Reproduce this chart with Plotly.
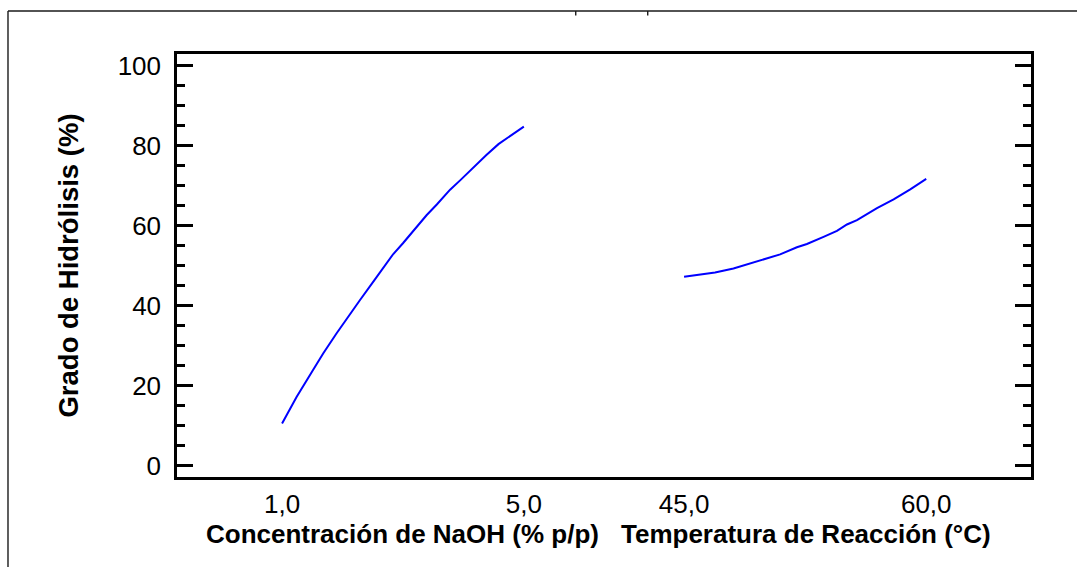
import plotly.graph_objects as go

# Main effects of the two factors on the degree of hydrolysis
naoh_conc = [1.0, 1.24, 1.51, 1.68, 1.90, 2.07, 2.29, 2.51, 2.67, 2.84, 3.0,
             3.25, 3.39, 3.56, 3.78, 3.95, 4.16, 4.38, 4.58, 4.77, 5.0]
naoh_effect = [10.5, 17.1, 23.8, 28.0, 33.0, 36.8, 41.4, 46.0, 49.3, 52.9, 55.6,
               60.0, 62.6, 65.3, 69.0, 71.4, 74.6, 77.7, 80.4, 82.4, 84.8]

temp_c = [45.0, 45.99, 46.92, 48.06, 49.51, 50.95, 51.99, 52.61, 53.64, 54.47,
          55.09, 55.71, 56.95, 57.98, 59.01, 60.0]
temp_effect = [47.2, 47.7, 48.3, 49.3, 51.0, 52.8, 54.6, 55.4, 57.2, 58.7,
               60.3, 61.4, 64.4, 66.6, 69.1, 71.7]

naoh_ticks = [1.0, 5.0]
naoh_ticktext = ["1,0", "5,0"]
temp_ticks = [45.0, 60.0]
temp_ticktext = ["45,0", "60,0"]

y_title = "Grado de Hidrólisis (%)"
x_titles = ["Concentración de NaOH (% p/p)", "Temperatura de Reacción (°C)"]

FONT = "Liberation Sans, Arial, Helvetica, sans-serif"
LINE_BLUE = "#0000ff"

fig = go.Figure()
fig.add_trace(go.Scatter(x=naoh_conc, y=naoh_effect, mode="lines",
                         line=dict(color=LINE_BLUE, width=2),
                         xaxis="x", yaxis="y", showlegend=False))
fig.add_trace(go.Scatter(x=temp_c, y=temp_effect, mode="lines",
                         line=dict(color=LINE_BLUE, width=2),
                         xaxis="x2", yaxis="y2", showlegend=False))

y_range = [-2.9, 102.96]
common_x = dict(showline=True, linecolor="black", linewidth=2.5, mirror=True,
                ticks="", showgrid=False, zeroline=False,
                tickfont=dict(family=FONT, size=26, color="black"),
                ticklabelstandoff=2, anchor="y")
common_y = dict(range=y_range, dtick=20, tick0=0, showline=True, linecolor="black",
                linewidth=2.5, ticks="inside", ticklen=16, tickwidth=2.5,
                tickcolor="black", showgrid=False, zeroline=False,
                minor=dict(dtick=5, tick0=0, ticks="inside", ticklen=8,
                           tickwidth=2.5, tickcolor="black", showgrid=False))

fig.update_layout(
    width=1077, height=567,
    margin=dict(l=177, r=46, t=54, b=90),
    paper_bgcolor="white", plot_bgcolor="white",
    font=dict(family=FONT, color="black"),
    xaxis=dict(domain=[0, 0.5], range=[-0.738, 6.326],
               tickvals=naoh_ticks, ticktext=naoh_ticktext, **common_x),
    xaxis2=dict(domain=[0.5, 1], range=[40.04, 66.49],
                tickvals=temp_ticks, ticktext=temp_ticktext, **common_x),
    yaxis=dict(anchor="x", side="left",
               tickfont=dict(family=FONT, size=26, color="black"),
               ticklabelstandoff=8, **common_y),
    yaxis2=dict(anchor="x2", side="right", overlaying="y",
                showticklabels=False, **common_y),
)

# Axis titles
fig.add_annotation(text=f"<b>{y_title}</b>", xref="paper", yref="paper",
                   x=-0.1276, y=0.5, textangle=-90, showarrow=False,
                   xanchor="center", yanchor="middle",
                   font=dict(family=FONT, size=27.5, color="black"))
for xc, t in zip([0.2635, 0.7365], x_titles):
    fig.add_annotation(text=f"<b>{t}</b>", xref="paper", yref="paper",
                       x=xc, y=-0.134, showarrow=False,
                       xanchor="center", yanchor="middle",
                       font=dict(family=FONT, size=26, color="black"))

# Outer frame (left and top edges) with two small marks along the top
frame = dict(color="#1a1a1a", width=1.4)
fig.add_shape(type="line", xref="paper", yref="paper",
              x0=-0.1979, x1=-0.1979, y0=1.1017, y1=-0.3, line=frame)
fig.add_shape(type="line", xref="paper", yref="paper",
              x0=-0.1979, x1=1.2, y0=1.1017, y1=1.1017, line=frame)
for xm in [0.4669, 0.5512]:
    fig.add_shape(type="line", xref="paper", yref="paper",
                  x0=xm, x1=xm, y0=1.1017, y1=1.091, line=frame)

fig.write_html("out.html")
